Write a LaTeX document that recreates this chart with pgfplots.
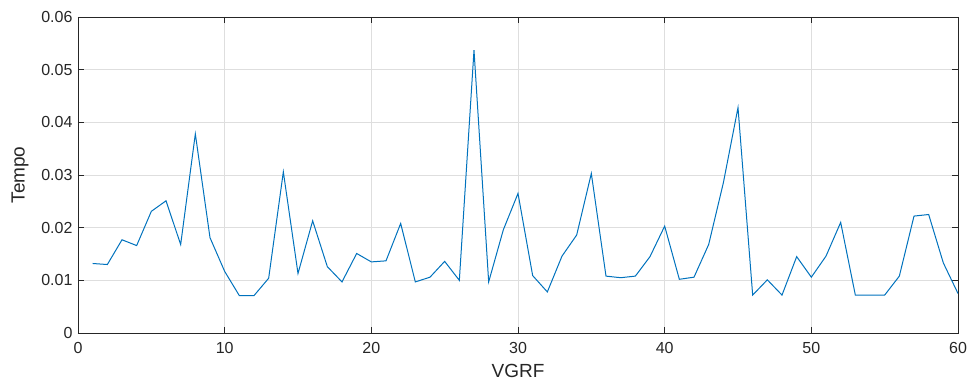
\documentclass[border=0pt]{standalone}
\usepackage{fontspec}
\setmainfont{Liberation Sans}
\usepackage{pgfplots}
\pgfplotsset{compat=1.18}
\definecolor{mblue}{rgb}{0,0.447,0.741}
\definecolor{axgray}{rgb}{0.15,0.15,0.15}
\definecolor{gridgray}{rgb}{0.87,0.87,0.87}
\begin{document}
\begin{tikzpicture}
\begin{axis}[
  scale only axis,
  width=880bp, height=316bp,
  xmin=0, xmax=60, ymin=0, ymax=0.06,
  xtick={0,10,20,30,40,50,60},
  ytick={0,0.01,0.02,0.03,0.04,0.05,0.06},
  yticklabels={0,0.01,0.02,0.03,0.04,0.05,0.06},
  /pgf/number format/assume math mode=true,
  scaled y ticks=false,
  grid=major,
  major grid style={gridgray, line width=0.6bp},
  axis line style={axgray, line width=0.8bp},
  tick style={axgray, line width=0.8bp},
  major tick length=6bp,
  tick align=inside,
  ticklabel style={font=\fontsize{16bp}{18bp}\selectfont, text=axgray},
  xticklabel style={yshift=-6bp},
  yticklabel style={xshift=-2bp},
  xlabel={VGRF}, ylabel={Tempo},
  label style={font=\fontsize{19bp}{21bp}\selectfont, text=axgray},
  xlabel style={yshift=-4bp},
  ylabel style={yshift=6bp},
]
\addplot[mblue, line width=1bp] coordinates {
(1,0.0132)(2,0.0130)(3,0.0177)(4,0.0166)(5,0.0231)(6,0.0251)(7,0.0168)(8,0.0378)
(9,0.0181)(10,0.0117)(11,0.0071)(12,0.0071)(13,0.0104)(14,0.0306)(15,0.0113)
(16,0.0213)(17,0.0126)(18,0.0097)(19,0.0151)(20,0.0135)(21,0.0137)(22,0.0208)
(23,0.0097)(24,0.0106)(25,0.0136)(26,0.0100)(27,0.0537)(28,0.0097)(29,0.0196)
(30,0.0265)(31,0.0109)(32,0.0078)(33,0.0146)(34,0.0186)(35,0.0303)(36,0.0108)
(37,0.0105)(38,0.0108)(39,0.0145)(40,0.0203)(41,0.0102)(42,0.0106)(43,0.0168)
(44,0.0285)(45,0.0428)(46,0.0072)(47,0.0101)(48,0.0072)(49,0.0145)(50,0.0106)
(51,0.0146)(52,0.0210)(53,0.0072)(54,0.0072)(55,0.0072)(56,0.0108)(57,0.0222)
(58,0.0225)(59,0.0133)(60,0.0075)
};
\end{axis}
\pgfresetboundingbox
\useasboundingbox ([shift={(-78bp,-57bp)}]current axis.south west) rectangle ([shift={(10bp,17bp)}]current axis.north east);
\end{tikzpicture}
\end{document}
